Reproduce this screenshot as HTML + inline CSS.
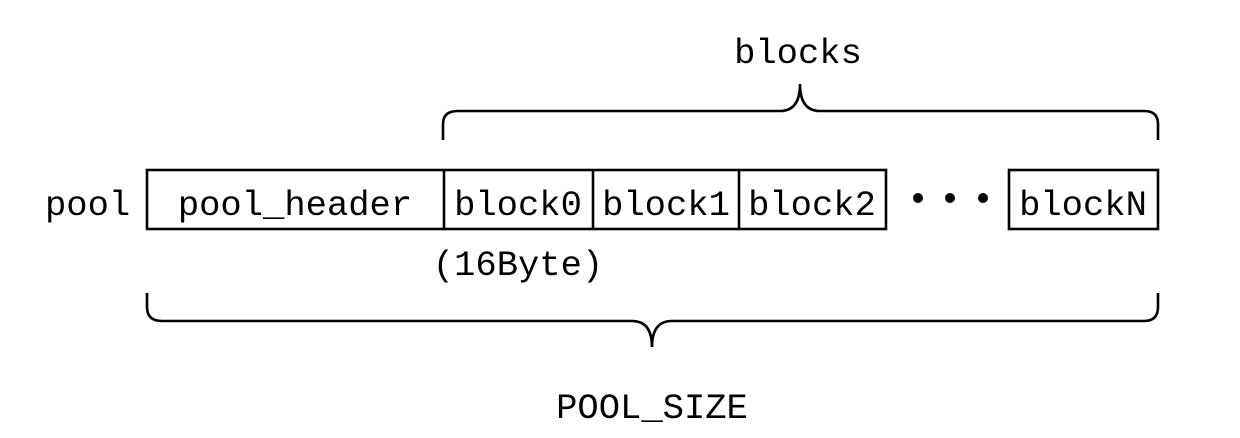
<!DOCTYPE html>
<html><head><style>
html,body{margin:0;padding:0;background:#fff;}
text{font-family:"Liberation Mono",monospace;font-size:35.5px;fill:#000;}
</style></head><body>
<svg width="1240" height="433" viewBox="0 0 1240 433" xmlns="http://www.w3.org/2000/svg">
<g fill="none" stroke="#000" stroke-width="2.6">
<rect x="147" y="170" width="739" height="59"/>
<line x1="444" y1="170" x2="444" y2="229"/>
<line x1="593" y1="170" x2="593" y2="229"/>
<line x1="739" y1="170" x2="739" y2="229"/>
<rect x="1009" y="170" width="149" height="59"/>
<path d="M443 140 V124 Q443 111 458 111 H780 Q800 111 800 84 Q800 111 820 111 H1144 Q1158 111 1158 124 V140"/>
<path d="M147 293 V307 Q147 321 162 321 H632 Q652 321 652 347 Q652 321 672 321 H1144 Q1158 321 1158 307 V293"/>
</g>
<g fill="#000"><circle cx="918" cy="198" r="5"/><circle cx="950" cy="198" r="5"/><circle cx="983" cy="198" r="5"/></g>
<text x="45" y="215">pool</text>
<text x="295" y="215" text-anchor="middle">pool_header</text>
<text x="518" y="215" text-anchor="middle">block0</text>
<text x="666" y="215" text-anchor="middle">block1</text>
<text x="812" y="215" text-anchor="middle">block2</text>
<text x="1083" y="215" text-anchor="middle">blockN</text>
<text x="518" y="275" text-anchor="middle">(16Byte)</text>
<text x="798" y="63" text-anchor="middle">blocks</text>
<text x="652" y="418" text-anchor="middle">POOL_SIZE</text>
</svg>
</body></html>
